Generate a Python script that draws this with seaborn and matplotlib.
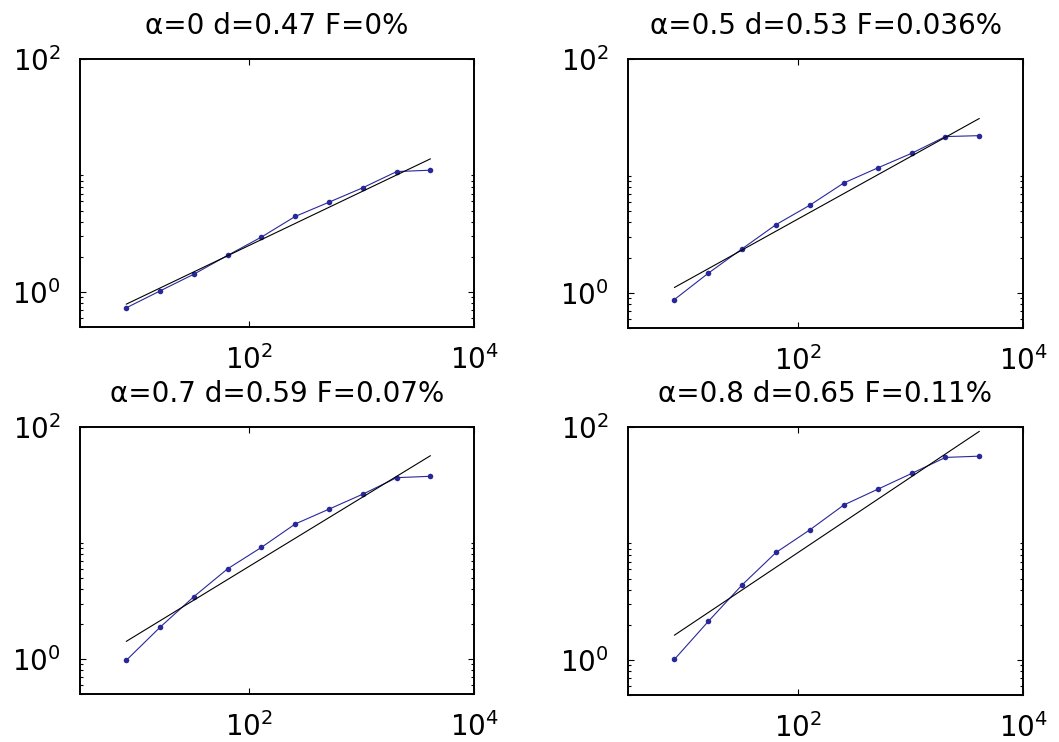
import matplotlib
matplotlib.use("Agg")
import matplotlib.pyplot as plt
import matplotlib.ticker as mticker
import seaborn as sns
import pandas as pd

# ---- data ----
x_vals = [8, 16, 32, 64, 128, 256, 512, 1024, 2048, 4096]
y_a0 = [0.73, 1.02, 1.42, 2.06, 2.96, 4.45, 5.9, 7.85, 10.8, 11.1]
y_a05 = [0.875, 1.47, 2.38, 3.83, 5.62, 8.7, 11.7, 15.6, 21.7, 22.1]
y_a07 = [0.975, 1.88, 3.45, 6.0, 9.18, 14.6, 19.6, 26.4, 36.6, 37.6]
y_a08 = [1.01, 2.14, 4.41, 8.37, 13.1, 21.4, 29.2, 39.9, 54.8, 56.2]
fit_x = [8, 4096]
fit_a0 = [0.785, 13.9]
fit_a05 = [1.11, 31.0]
fit_a07 = [1.42, 56.6]
fit_a08 = [1.63, 91.8]
alphas = ["0", "0.5", "0.7", "0.8"]
d_vals = ["0.47", "0.53", "0.59", "0.65"]
f_vals = ["0%", "0.036%", "0.07%", "0.11%"]

series = [y_a0, y_a05, y_a07, y_a08]
fits = [fit_a0, fit_a05, fit_a07, fit_a08]

sns.set_style("white")
plt.rcParams['font.family'] = ['DejaVu Sans']
plt.rcParams['mathtext.fontset'] = 'dejavusans'

W, H = 1059, 742
fig = plt.figure(figsize=(W / 100, H / 100), dpi=100)
boxes = [(80, 59, 474, 327), (628, 59, 1023, 328),
         (80, 427, 474, 694), (628, 427, 1023, 695)]

blue = "#28289a"
for i, (l, t, r, b) in enumerate(boxes):
    ax = fig.add_axes([l / W, 1 - b / H, (r - l) / W, (b - t) / H])
    df = pd.DataFrame({"x": x_vals, "y": series[i]})
    sns.lineplot(data=df, x="x", y="y", ax=ax, color=blue, lw=0.8,
                 marker="o", markersize=4, markeredgewidth=0, sort=False)
    dff = pd.DataFrame({"x": fit_x, "y": fits[i]})
    sns.lineplot(data=dff, x="x", y="y", ax=ax, color="black", lw=0.8, sort=False)
    ax.set_xscale("log")
    ax.set_yscale("log")
    ax.set_xlim(3.1, 1e4)
    ax.set_ylim(0.5, 100)
    ax.set_xlabel("")
    ax.set_ylabel("")
    ax.xaxis.set_major_locator(mticker.FixedLocator([1e2, 1e4]))
    ax.xaxis.set_minor_locator(mticker.NullLocator())
    ax.xaxis.set_major_formatter(mticker.FixedFormatter([r"$10^{2}$", r"$10^{4}$"]))
    ax.yaxis.set_major_locator(mticker.FixedLocator([1, 100]))
    ax.yaxis.set_major_formatter(mticker.FixedFormatter([r"$10^{0}$", r"$10^{2}$"]))
    ax.yaxis.set_minor_locator(mticker.FixedLocator(
        [0.5, 0.6, 0.7, 0.8, 0.9, 2, 3, 4, 5, 6, 7, 8, 9, 10]))
    ax.yaxis.set_minor_formatter(mticker.NullFormatter())
    ax.tick_params(which="both", direction="in", top=True, right=True,
                   bottom=True, left=True, color="black", width=0.8)
    ax.tick_params(which="major", length=4, labelsize=20, colors="black")
    ax.tick_params(which="minor", length=2.5)
    ax.tick_params(axis="x", which="major", pad=13)
    ax.tick_params(axis="y", which="major", pad=14)
    for s in ax.spines.values():
        s.set_color("black")
        s.set_linewidth(1.4)
        s.set_visible(True)
    ax.set_title(f"α={alphas[i]} d={d_vals[i]} F={f_vals[i]}",
                 fontsize=20, pad=18, color="black")

fig.savefig("out.png", dpi=100)
